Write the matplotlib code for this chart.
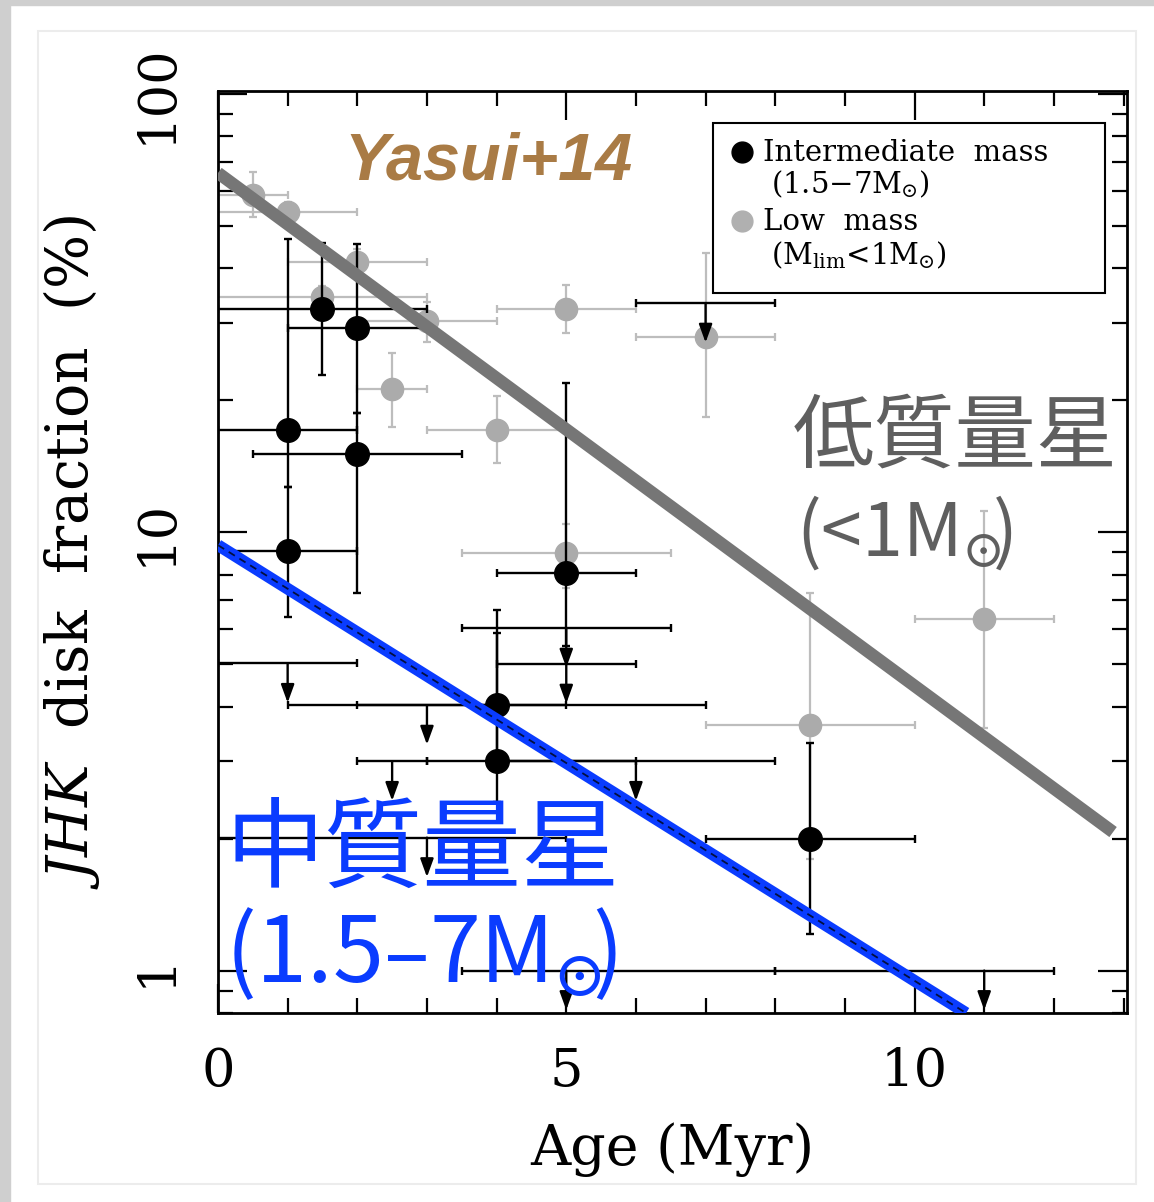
import matplotlib
matplotlib.use('Agg')
import matplotlib.pyplot as plt
from matplotlib.patches import Rectangle
from matplotlib.ticker import FixedLocator, FixedFormatter, LogLocator, MultipleLocator, NullFormatter

plt.rcParams['mathtext.fontset'] = 'dejavuserif'

# ---------------- data ----------------
# Low-mass (gray) disk fractions
low_age = [0.5, 1.0, 2.0, 1.5, 3.0, 5.0, 7.0, 2.5, 4.0, 5.0, 8.5, 11.0]
low_frac = [58.8, 53.8, 41.3, 34.4, 30.3, 32.3, 27.9, 21.2, 17.1, 8.96, 3.63, 6.33]
low_xlo = [0.5, 1.0, 1.0, 1.5, 1.0, 1.0, 1.0, 0.5, 1.0, 1.5, 1.5, 1.0]
low_xhi = [0.5, 1.0, 1.0, 1.5, 1.0, 1.0, 1.0, 0.5, 1.0, 1.5, 1.5, 1.0]
low_ylo = [6.5, 3.0, 3.0, 2.0, 3.2, 3.8, 9.6, 3.8, 2.7, 1.5, 1.83, 2.76]
low_yhi = [7.5, 3.0, 3.0, 2.0, 3.2, 4.3, 15.4, 4.4, 3.3, 1.5, 3.63, 4.87]

# Intermediate-mass (black) detections
int_age = [1.5, 2.0, 1.0, 2.0, 1.0, 5.0, 4.0, 4.0, 8.5]
int_frac = [32.3, 29.2, 17.1, 15.1, 9.05, 8.06, 4.03, 3.0, 2.0]
int_xlo = [1.5, 1.0, 1.0, 1.5, 1.0, 1.0, 2.0, 1.0, 1.5]
int_xhi = [1.5, 1.0, 1.0, 1.5, 1.0, 1.0, 3.0, 2.0, 1.5]
int_ylo = [9.5, 10.5, 4.4, 7.84, 2.65, 2.56, 1.13, 0.58, 0.79]
int_yhi = [13.4, 16.3, 29.6, 3.6, 3.65, 13.8, 2.6, 2.9, 1.31]

# Intermediate-mass upper limits
ul_age = [7.0, 1.0, 3.0, 5.0, 5.0, 2.5, 6.0, 3.0, 5.0, 11.0]
ul_frac = [33.3, 5.02, 4.03, 6.04, 5.0, 3.0, 3.0, 2.01, 1.0, 1.0]
ul_xlo = [1.0, 1.0, 2.0, 1.5, 1.0, 0.5, 2.0, 3.0, 1.5, 3.0]
ul_xhi = [1.0, 1.0, 2.0, 1.5, 1.0, 0.5, 2.0, 2.0, 3.0, 1.0]

# Fitted exponential decays (end points)
low_fit_age = [0.0, 12.85]
low_fit_frac = [66.0, 2.07]
int_fit_age = [0.0, 10.74]
int_fit_frac = [9.34, 0.80]

x_ticks = [0, 5, 10]
x_tick_labels = ['0', '5', '10']
y_ticks = [1, 10, 100]
y_tick_labels = ['1', '10', '100']

# ---------------- figure ----------------
fig = plt.figure(figsize=(11.54, 12.02), dpi=100)
fig.patch.set_facecolor('white')
# screenshot frame
fig.patches.append(Rectangle((0, 0), 0.009, 1, transform=fig.transFigure, color='#cfcfcf', zorder=0))
fig.patches.append(Rectangle((0, 0.996), 1, 0.004, transform=fig.transFigure, color='#cfcfcf', zorder=0))
fig.patches.append(Rectangle((0.033, 0.015), 0.951, 0.959, transform=fig.transFigure,
                             fill=False, ec='#ececec', lw=1.5, zorder=0))

ax = fig.add_axes([0.1889, 0.1572, 0.7877, 0.7671])
ax.set_yscale('log')
ax.set_xlim(0, 13.05)
ax.set_ylim(0.8, 101.5)

serif = 'DejaVu Serif'

# low-mass points
ax.errorbar(low_age, low_frac, xerr=[low_xlo, low_xhi], yerr=[low_ylo, low_yhi],
            fmt='o', color='#ababab', ms=16, mec='#ababab', ecolor='#bdbdbd',
            elinewidth=1.6, capsize=3, capthick=1.6, zorder=2)

# intermediate-mass detections
ax.errorbar(int_age, int_frac, xerr=[int_xlo, int_xhi], yerr=[int_ylo, int_yhi],
            fmt='o', color='black', ms=17, ecolor='black',
            elinewidth=1.7, capsize=3, capthick=1.7, zorder=3)

# intermediate-mass upper limits
ax.errorbar(ul_age, ul_frac, xerr=[ul_xlo, ul_xhi], fmt='none', ecolor='black',
            elinewidth=1.7, capsize=3, capthick=1.7, zorder=3)
for xa, ya in zip(ul_age, ul_frac):
    ax.annotate('', xy=(xa, ya / 1.23), xytext=(xa, ya),
                arrowprops=dict(arrowstyle='-|>,head_length=0.55,head_width=0.2',
                                lw=1.7, color='black', shrinkA=0, shrinkB=0,
                                mutation_scale=20), zorder=3)

# fits
ax.plot(low_fit_age, low_fit_frac, color='#767676', lw=9, solid_capstyle='butt', zorder=4)
ax.plot(int_fit_age, int_fit_frac, color='#0a3cff', lw=8.5, solid_capstyle='butt', zorder=5)
ax.plot(int_fit_age, int_fit_frac, color='black', lw=1.3, ls=(0, (4, 3)), alpha=0.75, zorder=6)

# ticks
ax.xaxis.set_major_locator(FixedLocator(x_ticks))
ax.xaxis.set_major_formatter(FixedFormatter(x_tick_labels))
ax.xaxis.set_minor_locator(MultipleLocator(1))
ax.yaxis.set_major_locator(FixedLocator(y_ticks))
ax.yaxis.set_major_formatter(FixedFormatter(y_tick_labels))
ax.yaxis.set_minor_locator(LogLocator(base=10, subs=[2, 3, 4, 5, 6, 7, 8, 9]))
ax.yaxis.set_minor_formatter(NullFormatter())
ax.tick_params(which='both', direction='in', top=True, right=True, width=1.6, color='black')
ax.tick_params(which='major', length=21)
ax.tick_params(which='minor', length=11)
ax.tick_params(axis='x', which='major', pad=24, labelsize=38)
ax.tick_params(axis='y', which='major', pad=26, labelsize=38)
for lab in ax.get_xticklabels():
    lab.set_family(serif)
for lab in ax.get_yticklabels():
    lab.set_family(serif)
    lab.set_rotation(90)
    lab.set_va('center')
for sp in ax.spines.values():
    sp.set_linewidth(2)

ax.set_xlabel('Age (Myr)', fontsize=40, family=serif)
ax.xaxis.set_label_coords(0.5, -0.118)
ax.set_ylabel(r'$JHK$  disk  fraction  (%)', fontsize=41, family=serif)
ax.yaxis.set_label_coords(-0.128, 0.5)

# legend (manual)
ax.add_patch(Rectangle((0.5446, 0.7809), 0.4312, 0.1844, transform=ax.transAxes,
                       fill=True, fc='white', ec='black', lw=1.5, zorder=7))
ax.plot([0.5765], [0.9338], 'o', color='black', ms=15, transform=ax.transAxes, zorder=8, clip_on=False)
ax.plot([0.5765], [0.859], 'o', color='#b0b0b0', ms=15, transform=ax.transAxes, zorder=8, clip_on=False)
leg_kw = dict(transform=ax.transAxes, family=serif, fontsize=21, va='center', ha='left', zorder=8)
ax.text(0.5996, 0.9328, 'Intermediate  mass', **leg_kw)
ax.text(0.6085, 0.899, r'(1.5$-$7M$\!_\odot\!$)', **leg_kw)
ax.text(0.5996, 0.858, 'Low  mass', **leg_kw)
ax.text(0.6085, 0.822, r'(M$_{\rm lim}$<1M$\!_\odot\!$)', **leg_kw)

# annotations
ax.text(0.139, 0.9035, 'Yasui+14', transform=ax.transAxes, fontsize=48, fontweight='bold',
        fontstyle='italic', color='#a97b45', family='Liberation Sans', va='baseline', zorder=9)
cjk = 'Noto Sans CJK JP'
ax.text(0.632, 0.6236, '低質量星', transform=ax.transAxes, fontsize=58.5, color='#5f5f5f',
        family=cjk, va='center', ha='left', zorder=9)
ax.text(0.636, 0.5206, r'(<1M$\!_\odot\!\!$)', transform=ax.transAxes, fontsize=53, color='#5f5f5f',
        family=cjk, va='center', ha='left', zorder=9)
ax.text(0.008, 0.1746, '中質量星', transform=ax.transAxes, fontsize=71, color='#0a3cff',
        family=cjk, va='center', ha='left', zorder=9)
ax.text(0.008, 0.063, r'(1.5–7M$\!_\odot\!\!$)', transform=ax.transAxes, fontsize=66, color='#0a3cff',
        family=cjk, va='center', ha='left', zorder=9)

fig.savefig('out.png', dpi=100)
